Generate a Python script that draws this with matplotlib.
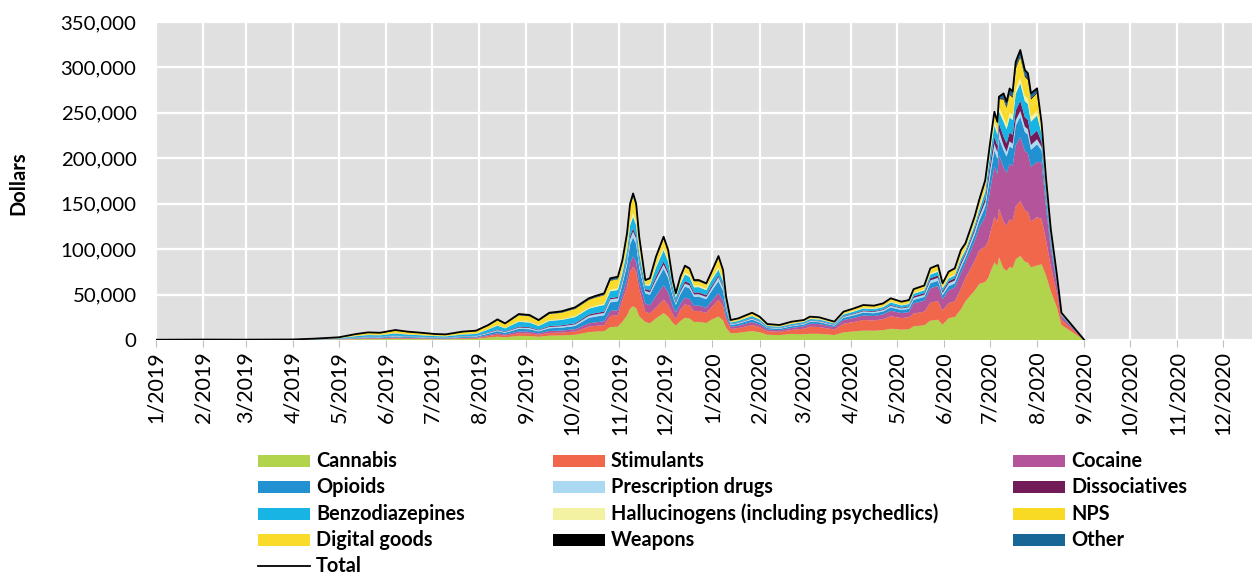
import numpy as np
import pandas as pd
import matplotlib
matplotlib.use("Agg")
import matplotlib.pyplot as plt
import matplotlib.dates as mdates
from matplotlib.patches import Rectangle
from matplotlib.lines import Line2D
from matplotlib.ticker import FuncFormatter, MultipleLocator

plt.rcParams["font.family"] = ["Lato", "DejaVu Sans"]

# Observation dates
dates = [
    "2019-01-01", "2019-02-01", "2019-03-01", "2019-04-01", "2019-04-15", "2019-05-01", "2019-05-12", "2019-05-20", "2019-05-28", "2019-06-07",
    "2019-06-15", "2019-06-24", "2019-07-03", "2019-07-10", "2019-07-21", "2019-07-30", "2019-08-07", "2019-08-13", "2019-08-18", "2019-08-27",
    "2019-09-03", "2019-09-09", "2019-09-16", "2019-09-24", "2019-10-03", "2019-10-12", "2019-10-16", "2019-10-22", "2019-10-26", "2019-10-31",
    "2019-11-03", "2019-11-06", "2019-11-08", "2019-11-10", "2019-11-12", "2019-11-14", "2019-11-18", "2019-11-21", "2019-11-25", "2019-11-30",
    "2019-12-03", "2019-12-06", "2019-12-08", "2019-12-11", "2019-12-14", "2019-12-17", "2019-12-20", "2019-12-23", "2019-12-28", "2019-12-31",
    "2020-01-05", "2020-01-08", "2020-01-10", "2020-01-13", "2020-01-18", "2020-01-27", "2020-02-01", "2020-02-06", "2020-02-14", "2020-02-22",
    "2020-03-01", "2020-03-05", "2020-03-11", "2020-03-21", "2020-03-27", "2020-04-03", "2020-04-09", "2020-04-16", "2020-04-22", "2020-04-27",
    "2020-05-04", "2020-05-09", "2020-05-12", "2020-05-19", "2020-05-23", "2020-05-28", "2020-05-31", "2020-06-04", "2020-06-08", "2020-06-12",
    "2020-06-15", "2020-06-18", "2020-06-21", "2020-06-24", "2020-06-28", "2020-06-30", "2020-07-02", "2020-07-04", "2020-07-06", "2020-07-07",
    "2020-07-10", "2020-07-12", "2020-07-14", "2020-07-16", "2020-07-18", "2020-07-21", "2020-07-24", "2020-07-26", "2020-07-28", "2020-08-01",
    "2020-08-04", "2020-08-07", "2020-08-10", "2020-08-14", "2020-08-17", "2020-09-01",
]

# Sales per category, thousands of dollars
cannabis = [
    0.04, 0.06, 0.05, 0.07, 0.18, 0.36, 0.78, 1.0, 0.96, 1.32,
    1.10, 0.96, 0.79, 0.74, 1.10, 1.24, 2.64, 3.63, 2.93, 4.58,
    4.40, 3.52, 4.80, 5.04, 5.76, 8.72, 9.20, 9.77, 14.26, 14.64,
    20.24, 27.0, 34.5, 37.1, 35.0, 26.2, 19.8, 18.4, 23.8, 29.6,
    25.7, 19.0, 16.0, 20.9, 24.5, 23.7, 19.8, 20.0, 18.7, 22.0,
    25.9, 21.6, 13.4, 7.3, 7.9, 9.9, 8.5, 5.8, 5.4, 6.7,
    6.2, 6.9, 6.8, 5.5, 8.4, 9.4, 10.4, 10.2, 10.9, 12.4,
    11.4, 11.9, 15.1, 16.2, 21.3, 22.3, 16.8, 24.1, 25.2, 33.7,
    42.6, 48.4, 54.3, 61.6, 64.0, 68.6, 77.3, 85.4, 81.7, 91.1,
    78.7, 76.1, 80.3, 79.3, 88.8, 92.6, 86.2, 85.1, 80.0, 82.0,
    83.4, 70.4, 53.7, 36.0, 16.5, 0,
]
stimulants = [
    0.02, 0.04, 0.03, 0.05, 0.12, 0.24, 0.52, 0.67, 0.64, 0.88,
    0.74, 0.64, 0.53, 0.50, 0.74, 0.82, 1.65, 2.27, 1.83, 2.86,
    2.75, 2.20, 3.00, 3.15, 3.60, 5.97, 6.29, 6.68, 12.22, 12.55,
    23.76, 31.7, 40.5, 43.6, 40.0, 29.6, 11.2, 11.0, 11.9, 14.8,
    12.9, 9.2, 7.2, 12.5, 14.7, 14.2, 11.9, 12.0, 11.2, 13.2,
    18.5, 15.4, 9.5, 4.8, 5.2, 6.6, 5.7, 3.9, 3.6, 4.4,
    6.2, 7.7, 7.5, 6.1, 9.4, 10.5, 11.6, 11.3, 12.1, 13.8,
    12.7, 13.2, 14.0, 15.0, 19.8, 20.6, 15.6, 16.5, 17.4, 22.8,
    25.5, 29.0, 32.6, 37.0, 38.7, 40.3, 45.5, 50.2, 48.0, 53.6,
    51.6, 49.8, 52.6, 52.0, 58.2, 60.6, 56.5, 55.8, 50.5, 53.0,
    50.1, 38.7, 26.8, 15.8, 6.0, 0,
]
cocaine = [
    0.02, 0.03, 0.02, 0.04, 0.09, 0.18, 0.39, 0.50, 0.48, 0.66,
    0.55, 0.48, 0.40, 0.37, 0.55, 0.62, 1.16, 1.59, 1.28, 2.00,
    1.93, 1.54, 2.10, 2.21, 2.52, 3.67, 3.87, 4.11, 5.43, 5.58,
    6.16, 8.2, 10.5, 11.3, 10.8, 8.0, 9.2, 8.8, 12.8, 15.9,
    13.9, 9.2, 7.2, 6.3, 7.4, 7.1, 5.9, 6.0, 5.6, 6.6,
    7.4, 6.2, 3.8, 2.4, 2.6, 3.3, 2.8, 1.9, 1.8, 2.2,
    2.7, 3.3, 3.3, 2.6, 4.1, 4.5, 5.0, 4.9, 5.2, 6.0,
    5.5, 5.7, 11.2, 12.0, 15.8, 16.5, 12.5, 14.3, 15.0, 16.8,
    17.0, 19.4, 21.7, 24.6, 33.4, 44.4, 50.0, 55.3, 52.8, 58.9,
    59.7, 57.7, 60.9, 60.2, 67.4, 70.2, 65.4, 64.6, 60.0, 61.0,
    62.0, 35.2, 19.5, 9.4, 3.3, 0,
]
opioids = [
    0.03, 0.05, 0.04, 0.06, 0.15, 0.30, 0.65, 0.84, 0.80, 1.10,
    0.92, 0.80, 0.66, 0.62, 0.92, 1.03, 1.65, 2.27, 1.83, 2.86,
    2.75, 2.20, 3.00, 3.15, 3.60, 5.97, 6.29, 6.68, 9.51, 9.76,
    11.44, 15.3, 19.5, 21.0, 19.8, 15.9, 11.2, 11.6, 14.7, 18.2,
    15.8, 10.6, 8.2, 10.5, 12.3, 11.8, 9.9, 9.8, 9.4, 11.0,
    12.9, 10.8, 6.7, 2.0, 2.1, 2.7, 2.3, 1.6, 1.5, 1.8,
    1.9, 2.1, 2.0, 1.6, 2.5, 2.8, 3.1, 3.0, 3.2, 3.7,
    3.4, 3.5, 3.9, 4.2, 5.5, 5.8, 4.4, 4.5, 4.7, 5.9,
    5.3, 6.1, 6.8, 7.7, 10.6, 14.1, 15.9, 17.6, 16.8, 18.7,
    19.0, 18.4, 19.4, 19.1, 21.4, 22.3, 20.8, 20.5, 18.8, 19.4,
    13.0, 9.7, 6.7, 3.6, 1.3, 0,
]
prescription = [
    0.02, 0.03, 0.02, 0.04, 0.09, 0.18, 0.39, 0.50, 0.48, 0.66,
    0.55, 0.48, 0.40, 0.37, 0.55, 0.62, 0.83, 1.14, 0.92, 1.43,
    1.38, 1.10, 1.50, 1.58, 1.80, 2.30, 2.42, 2.57, 3.40, 3.49,
    3.52, 4.7, 6.0, 6.5, 6.0, 4.6, 2.6, 2.7, 3.7, 4.5,
    4.0, 2.6, 2.1, 2.8, 3.3, 3.2, 2.6, 2.6, 2.5, 2.9,
    4.6, 3.9, 2.4, 0.9, 1.0, 1.2, 1.0, 0.7, 0.7, 0.8,
    0.9, 1.0, 1.0, 0.8, 1.2, 1.4, 1.5, 1.5, 1.6, 1.8,
    1.7, 1.8, 2.2, 2.4, 3.2, 3.3, 2.5, 3.0, 3.2, 3.5,
    3.2, 3.6, 4.1, 4.6, 5.3, 6.1, 6.8, 7.5, 7.2, 8.0,
    5.4, 5.2, 5.5, 5.5, 6.1, 6.4, 5.9, 5.9, 5.4, 5.5,
    4.0, 3.0, 2.1, 1.2, 0.5, 0,
]
dissociatives = [
    0.01, 0.02, 0.01, 0.02, 0.05, 0.09, 0.20, 0.25, 0.24, 0.33,
    0.28, 0.24, 0.20, 0.19, 0.28, 0.31, 0.50, 0.68, 0.55, 0.86,
    0.83, 0.66, 0.90, 0.95, 1.08, 1.38, 1.45, 1.54, 1.36, 1.39,
    1.76, 2.3, 3.0, 3.2, 3.0, 2.3, 2.0, 2.0, 2.8, 3.4,
    3.0, 2.0, 1.5, 2.1, 2.5, 2.4, 2.0, 2.0, 1.9, 2.2,
    1.8, 1.5, 1.0, 0.4, 0.5, 0.6, 0.5, 0.4, 0.3, 0.4,
    0.4, 0.5, 0.5, 0.4, 0.6, 0.7, 0.8, 0.8, 0.8, 0.9,
    0.8, 0.9, 1.7, 1.8, 2.4, 2.5, 1.9, 2.3, 2.4, 2.5,
    2.1, 2.4, 2.7, 3.1, 4.4, 6.1, 6.8, 7.5, 7.2, 8.0,
    9.5, 9.2, 9.7, 9.6, 10.7, 11.2, 10.4, 10.3, 9.4, 9.7,
    5.5, 3.5, 2.4, 1.2, 0.4, 0,
]
benzodiazepines = [
    0.06, 0.10, 0.08, 0.12, 0.30, 0.60, 1.30, 1.68, 1.60, 2.20,
    1.84, 1.60, 1.32, 1.24, 1.84, 2.06, 3.14, 4.31, 3.48, 5.43,
    5.23, 4.18, 5.70, 5.99, 6.84, 6.43, 6.78, 7.20, 7.47, 7.67,
    7.04, 9.4, 12.0, 12.9, 11.7, 9.1, 4.0, 5.4, 10.1, 12.5,
    10.9, 6.6, 4.6, 6.3, 7.4, 7.1, 5.9, 5.8, 5.6, 6.6,
    6.5, 5.4, 3.3, 1.5, 1.7, 2.1, 1.8, 1.2, 1.2, 1.4,
    1.5, 1.6, 1.5, 1.2, 1.9, 2.1, 2.3, 2.3, 2.4, 2.8,
    2.5, 2.6, 2.8, 3.0, 4.0, 4.1, 3.1, 3.0, 3.2, 4.0,
    3.2, 3.6, 4.1, 4.6, 7.0, 10.1, 11.4, 12.6, 12.0, 13.4,
    16.3, 15.7, 16.6, 16.4, 18.4, 19.2, 17.8, 17.6, 16.2, 16.6,
    8.5, 6.2, 4.3, 2.2, 0.7, 0,
]
hallucinogens = [
    0.01, 0.02, 0.02, 0.02, 0.06, 0.12, 0.26, 0.34, 0.32, 0.44,
    0.37, 0.32, 0.26, 0.25, 0.37, 0.41, 0.50, 0.68, 0.55, 0.86,
    0.83, 0.66, 0.90, 0.95, 1.08, 1.38, 1.45, 1.54, 2.04, 2.09,
    2.64, 3.5, 4.5, 4.8, 4.4, 3.4, 1.3, 1.7, 2.8, 3.4,
    3.0, 2.0, 1.5, 2.1, 2.5, 2.4, 2.0, 2.0, 1.9, 2.2,
    2.8, 2.3, 1.4, 0.4, 0.5, 0.6, 0.5, 0.4, 0.3, 0.4,
    0.4, 0.5, 0.5, 0.4, 0.6, 0.7, 0.8, 0.8, 0.8, 0.9,
    0.8, 0.9, 1.1, 1.2, 1.6, 1.7, 1.2, 1.5, 1.6, 2.0,
    2.1, 2.4, 2.7, 3.1, 3.5, 4.0, 4.5, 5.0, 4.8, 5.4,
    5.4, 5.2, 5.5, 5.5, 6.1, 6.4, 5.9, 5.9, 5.4, 5.5,
    2.6, 1.8, 1.2, 0.6, 0.2, 0,
]
nps = [
    0.01, 0.02, 0.01, 0.02, 0.05, 0.09, 0.20, 0.25, 0.24, 0.33,
    0.28, 0.24, 0.20, 0.19, 0.28, 0.31, 0.66, 0.91, 0.73, 1.14,
    1.10, 0.88, 1.20, 1.26, 1.44, 1.84, 1.94, 2.06, 2.04, 2.09,
    2.64, 3.5, 4.5, 4.8, 4.4, 3.4, 1.3, 1.7, 2.8, 3.4,
    3.0, 1.6, 1.0, 2.1, 2.5, 2.4, 2.0, 2.0, 1.9, 2.2,
    3.7, 3.1, 1.9, 0.7, 0.7, 0.9, 0.8, 0.5, 0.5, 0.6,
    0.5, 0.5, 0.5, 0.4, 0.6, 0.7, 0.8, 0.8, 0.8, 0.9,
    0.8, 0.9, 1.7, 1.8, 2.4, 2.5, 1.9, 2.3, 2.4, 2.5,
    2.1, 2.4, 2.7, 3.1, 3.5, 4.0, 4.5, 5.0, 4.8, 5.4,
    10.9, 10.5, 11.1, 10.9, 12.3, 12.8, 11.9, 11.7, 10.8, 11.0,
    4.5, 3.2, 2.2, 1.0, 0.4, 0,
]
digital_goods = [
    0.07, 0.11, 0.10, 0.14, 0.34, 0.69, 1.50, 1.93, 1.84, 2.53,
    2.12, 1.84, 1.52, 1.43, 2.12, 2.37, 2.97, 4.09, 3.29, 5.15,
    4.95, 3.96, 5.40, 5.67, 6.48, 6.43, 6.78, 7.20, 7.47, 7.67,
    7.04, 9.4, 12.0, 12.9, 12.0, 9.1, 2.6, 3.7, 4.6, 5.7,
    5.0, 2.6, 1.6, 2.8, 3.3, 3.2, 2.6, 2.4, 2.5, 2.9,
    6.5, 5.4, 3.3, 1.3, 1.4, 1.8, 1.5, 1.0, 1.0, 1.2,
    1.1, 1.3, 1.2, 1.0, 1.6, 1.7, 1.9, 1.9, 2.0, 2.3,
    2.1, 2.2, 1.7, 1.8, 2.4, 2.5, 1.9, 3.0, 3.2, 4.0,
    2.1, 2.4, 2.7, 3.1, 3.5, 2.0, 2.3, 2.5, 2.4, 2.7,
    8.1, 7.9, 8.3, 8.2, 9.2, 9.6, 8.9, 8.8, 8.1, 8.0,
    2.5, 2.5, 1.8, 0.6, 0.4, 0,
]
weapons = [
    0, 0.01, 0, 0.01, 0.02, 0.03, 0.07, 0.08, 0.08, 0.11,
    0.09, 0.08, 0.07, 0.06, 0.09, 0.10, 0.17, 0.23, 0.18, 0.29,
    0.28, 0.22, 0.30, 0.32, 0.36, 0.46, 0.48, 0.51, 0.34, 0.35,
    0.44, 0.6, 0.75, 0.8, 0.7, 0.6, 0.2, 0.3, 0.5, 0.6,
    0.5, 0.2, 0.2, 0.3, 0.4, 0.4, 0.4, 0.4, 0.3, 0.4,
    0.5, 0.4, 0.3, 0.1, 0.1, 0.1, 0.1, 0.1, 0.1, 0.1,
    0.1, 0.1, 0.1, 0.1, 0.1, 0.1, 0.1, 0.1, 0.1, 0.1,
    0.1, 0.1, 0.2, 0.2, 0.2, 0.2, 0.2, 0.2, 0.2, 0.3,
    0.3, 0.4, 0.4, 0.5, 0.5, 0.6, 0.7, 0.8, 0.7, 0.8,
    1.4, 1.3, 1.4, 1.4, 1.5, 1.6, 1.5, 1.5, 1.4, 1.3,
    0.5, 0.4, 0.3, 0.1, 0.1, 0,
]
other = [
    0.01, 0.01, 0.02, 0.01, 0.05, 0.12, 0.26, 0.34, 0.32, 0.44,
    0.37, 0.32, 0.26, 0.25, 0.37, 0.41, 0.66, 0.91, 0.73, 1.14,
    1.10, 0.88, 1.20, 1.26, 1.44, 1.38, 1.45, 1.54, 2.38, 2.44,
    1.32, 1.8, 2.25, 2.4, 2.2, 1.5, 0.6, 0.7, 1.2, 1.7,
    1.3, 0.4, 0.3, 1.0, 1.0, 1.0, 1.0, 1.0, 0.9, 1.2,
    1.3, 1.0, 0.7, 0.2, 0.1, 0.2, 0.2, 0.1, 0.1, 0.2,
    0.1, 0.2, 0.1, 0.1, 0.2, 0.3, 0.2, 0.2, 0.4, 0.3,
    0.4, 0.3, 0.4, 0.4, 0.4, 0.5, 0.4, 0.5, 0.4, 1.0,
    0.9, 0.9, 0.9, 1.0, 1.6, 1.4, 1.7, 1.8, 1.8, 1.8,
    5.4, 5.2, 5.5, 5.4, 6.2, 6.3, 6.0, 5.8, 5.5, 4.0,
    1.8, 1.4, 1.0, 0.3, 0.2, 0,
]

categories = [
    "Cannabis", "Stimulants", "Cocaine", "Opioids", "Prescription drugs",
    "Dissociatives", "Benzodiazepines", "Hallucinogens (including psychedlics)",
    "NPS", "Digital goods", "Weapons", "Other",
]
series = [cannabis, stimulants, cocaine, opioids, prescription, dissociatives,
          benzodiazepines, hallucinogens, nps, digital_goods, weapons, other]
colors = ["#B2D34C", "#F1674B", "#B4549B", "#2191D1", "#ABD9F1", "#731A58",
          "#17B4E4", "#F3F1A2", "#F8DA25", "#FBDB2A", "#000000", "#176697"]

x = mdates.date2num(pd.to_datetime(dates))
stack = np.array(series, dtype=float) * 1000.0
total = stack.sum(axis=0)

W, H = 1253, 576
fig = plt.figure(figsize=(W / 100, H / 100), dpi=100)
ax = fig.add_axes([156 / W, 1 - 340 / H, (1252 - 156) / W, (340 - 22) / H])
ax.set_facecolor("#E0E0E0")

ax.stackplot(x, stack, colors=colors, linewidth=0, zorder=2)
ax.plot(x, total, color="black", lw=1.3, zorder=3)

ax.set_xlim(mdates.date2num(pd.Timestamp("2019-01-01")),
            mdates.date2num(pd.Timestamp("2020-12-20")))
ax.set_ylim(0, 350000)

ax.xaxis.set_major_locator(mdates.MonthLocator())
ax.xaxis.set_major_formatter(FuncFormatter(
    lambda v, p: f"{mdates.num2date(v).month}/{mdates.num2date(v).year}"))
ax.yaxis.set_major_locator(MultipleLocator(50000))
ax.yaxis.set_major_formatter(FuncFormatter(lambda v, p: f"{int(v):,}"))

ax.grid(True, color="white", lw=1.6, zorder=1)
ax.set_axisbelow(True)
for s in ax.spines.values():
    s.set_visible(False)

ax.tick_params(axis="x", labelrotation=90, labelsize=15.5, length=5,
               color="#BFBFBF", pad=3)
ax.tick_params(axis="y", labelsize=14.7, length=0, pad=14)

fig.text(18 / W, 1 - 183 / H, "Dollars", rotation=90, fontsize=14.5,
         fontweight="bold", ha="center", va="center")

# Legend, laid out in three columns
col_x = [258, 553, 1013]
row_y = [461, 487, 514, 540, 566]
entries = list(zip(categories, colors)) + [("Total", None)]
for i, (name, col) in enumerate(entries):
    cx = col_x[i % 3]
    cy = row_y[i // 3]
    if col is not None:
        fig.patches.append(Rectangle((cx / W, 1 - (cy + 6) / H), 52 / W, 12 / H,
                                     transform=fig.transFigure, facecolor=col,
                                     edgecolor="none"))
    else:
        fig.lines.append(Line2D([cx / W, (cx + 52) / W], [1 - cy / H, 1 - cy / H],
                                transform=fig.transFigure, color="black", lw=1.3))
    fig.text((cx + 58) / W, 1 - cy / H, name, fontsize=14.3, fontweight="bold",
             ha="left", va="center")

fig.savefig("out.png", dpi=100)
